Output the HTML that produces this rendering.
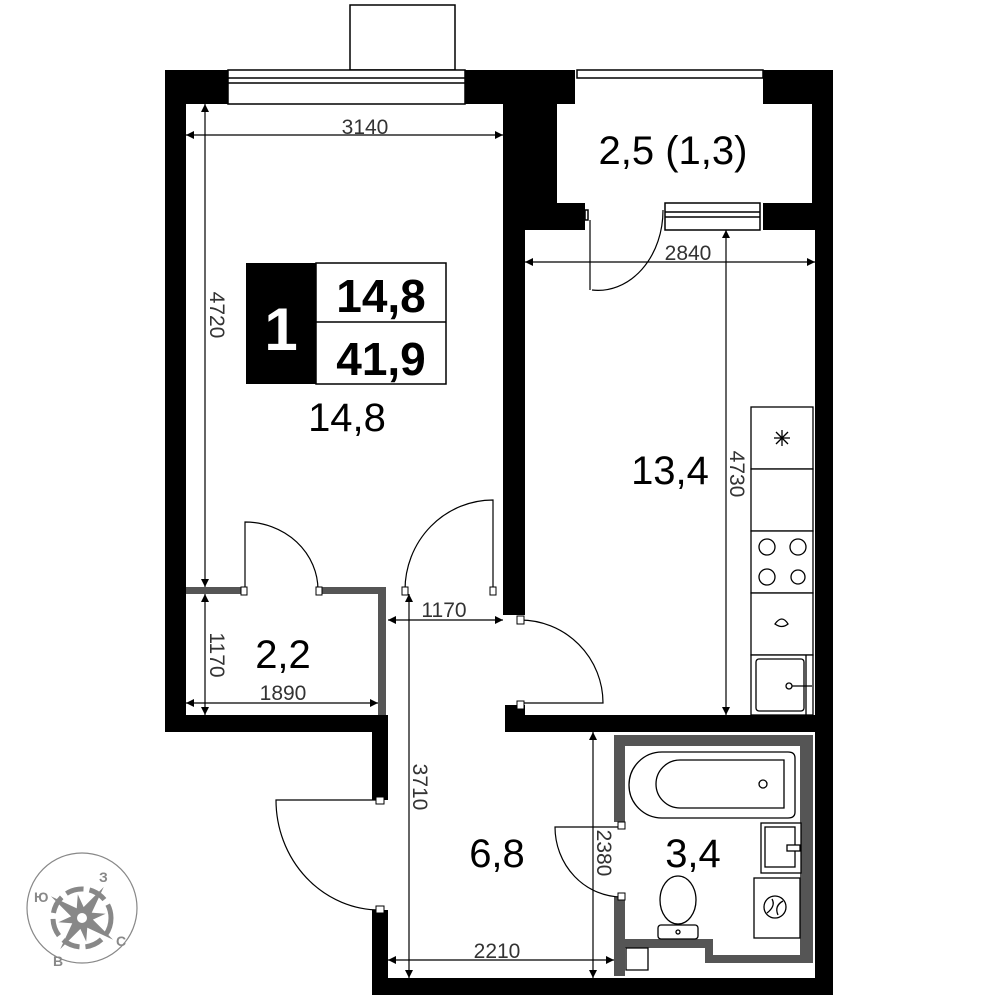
<!DOCTYPE html>
<html><head><meta charset="utf-8"><style>
html,body{margin:0;padding:0;background:#fff}
svg{display:block}
text{font-family:"Liberation Sans","DejaVu Sans",sans-serif}
</style></head><body>
<svg width="1000" height="1000" viewBox="0 0 1000 1000" xmlns="http://www.w3.org/2000/svg">
<defs>
<marker id="a" viewBox="0 0 10 10" refX="10" refY="5" markerWidth="14" markerHeight="8" markerUnits="userSpaceOnUse" orient="auto-start-reverse"><path d="M0,0L10,5L0,10z" fill="#000"/></marker>
</defs>
<g fill="#000">
<rect x="165" y="70" width="21" height="662"/>
<rect x="165" y="70" width="63" height="34"/>
<rect x="465" y="70" width="60" height="34"/>
<rect x="503" y="70" width="22" height="545"/>
<rect x="525" y="70" width="50" height="34"/>
<rect x="525" y="70" width="32" height="160"/>
<rect x="525" y="203" width="60" height="27"/>
<rect x="763" y="70" width="70" height="34"/>
<rect x="812" y="70" width="21" height="160"/>
<rect x="763" y="203" width="70" height="27"/>
<rect x="815" y="230" width="18" height="765"/>
<rect x="505" y="715" width="328" height="17"/>
<rect x="505" y="705" width="20" height="12"/>
<rect x="165" y="715" width="223" height="17"/>
<rect x="372" y="715" width="16" height="85"/>
<rect x="372" y="910" width="16" height="85"/>
<rect x="372" y="978" width="461" height="17"/>
</g>
<g fill="#fff" stroke="#000" stroke-width="1.5">
<rect x="350" y="5" width="105" height="65"/>
<rect x="228" y="70" width="237" height="34"/>
<line x1="228" y1="78" x2="465" y2="78"/><line x1="228" y1="83" x2="465" y2="83"/>
<rect x="577" y="70" width="186" height="8"/>
<rect x="665" y="203" width="95" height="27"/>
<line x1="665" y1="212" x2="760" y2="212"/><line x1="665" y1="217" x2="760" y2="217"/>
<rect x="585" y="210" width="3" height="10"/>
</g>
<g fill="#555">
<rect x="186" y="587" width="192" height="7"/>
<rect x="378" y="587" width="8" height="128"/>
<rect x="614" y="735" width="199" height="11"/>
<rect x="614" y="735" width="11" height="87"/>
<rect x="614" y="897" width="11" height="79"/>
<rect x="800" y="735" width="13" height="228"/>
<rect x="625" y="939" width="88" height="9"/>
<rect x="705" y="939" width="8" height="24"/>
<rect x="705" y="955" width="108" height="8"/>
</g>
<g fill="#fff">
<rect x="245" y="586" width="73" height="9"/>
<rect x="405" y="586" width="88" height="9"/>
</g>
<g fill="none" stroke="#000" stroke-width="1.2">
<path d="M245,590 V522 A73,68 0 0 1 318,590"/>
<path d="M493,590 V500 A88,90 0 0 0 405,590"/>
<path d="M592,290 A65,80 0 0 0 663,210"/>
<line x1="590" y1="220" x2="590" y2="290"/>
<path d="M520,620 A83,83 0 0 1 603,703 H520"/>
<path d="M380,800 H276 A104,110 0 0 0 380,910"/>
<path d="M622,827 H555 A67,70 0 0 0 622,897"/>
</g>
<g fill="#fff" stroke="#000" stroke-width="1">
<rect x="241" y="587" width="6" height="8"/><rect x="316" y="587" width="6" height="8"/>
<rect x="402" y="587" width="6" height="8"/><rect x="490" y="587" width="6" height="8"/>
<rect x="517" y="616" width="7" height="8"/><rect x="517" y="701" width="7" height="8"/>
<rect x="376" y="797" width="8" height="7"/><rect x="376" y="906" width="8" height="7"/>
<rect x="618" y="822" width="7" height="7"/><rect x="618" y="893" width="7" height="7"/>
</g>
<g fill="#fff" stroke="#000" stroke-width="1.3">
<rect x="751" y="407" width="62" height="62"/>
<rect x="751" y="469" width="62" height="62"/>
<rect x="751" y="531" width="62" height="62"/>
<rect x="751" y="593" width="62" height="62"/>
<rect x="751" y="655" width="62" height="60"/>
<rect x="756" y="659" width="48" height="52" rx="3"/>
<line x1="806" y1="655" x2="806" y2="715"/>
<circle cx="767" cy="547" r="8"/><circle cx="798" cy="547" r="8"/>
<circle cx="767" cy="577" r="8"/><circle cx="798" cy="577" r="7"/>
<path d="M775,624 Q782,614 788,624 Q782,629 775,624z"/>
<circle cx="789" cy="686" r="3"/><line x1="792" y1="686" x2="812" y2="686"/>
</g>
<g stroke="#000" stroke-width="1.3">
<line x1="782" y1="430" x2="782" y2="446"/><line x1="774" y1="438" x2="790" y2="438"/>
<line x1="776" y1="432" x2="788" y2="444"/><line x1="788" y1="432" x2="776" y2="444"/>
</g>
<g fill="#fff" stroke="#000" stroke-width="1.3">
<path d="M662,752 H788 Q795,752 795,758 V812 Q795,818 788,818 H662 A33,33 0 0 1 662,752z"/>
<path d="M680,760 H784 V808 H680 A24,24 0 0 1 680,760z"/>
<circle cx="763" cy="784" r="4"/>
<rect x="761" y="823" width="40" height="50"/>
<rect x="765" y="827" width="30" height="40"/>
<rect x="787" y="845" width="13" height="6"/>
<rect x="754" y="878" width="46" height="60"/>
<circle cx="775" cy="907" r="11"/>
<path d="M767,913 Q776,906 772,899 M778,915 Q774,906 783,901"/>
<ellipse cx="678" cy="900" rx="18" ry="24"/>
<rect x="658" y="925" width="40" height="14" rx="3"/>
<circle cx="678" cy="932" r="2"/>
<path d="M626,948 H648 V970 H626z"/>
</g>
<g stroke="#000" stroke-width="1.2" fill="none">
<line x1="186" y1="135" x2="503" y2="135" marker-start="url(#a)" marker-end="url(#a)"/>
<line x1="205" y1="104" x2="205" y2="587" marker-start="url(#a)" marker-end="url(#a)"/>
<line x1="525" y1="262" x2="815" y2="262" marker-start="url(#a)" marker-end="url(#a)"/>
<line x1="726" y1="230" x2="726" y2="715" marker-start="url(#a)" marker-end="url(#a)"/>
<line x1="388" y1="620" x2="503" y2="620" marker-start="url(#a)" marker-end="url(#a)"/>
<line x1="205" y1="594" x2="205" y2="715" marker-start="url(#a)" marker-end="url(#a)"/>
<line x1="186" y1="703" x2="378" y2="703" marker-start="url(#a)" marker-end="url(#a)"/>
<line x1="409" y1="594" x2="409" y2="978" marker-start="url(#a)" marker-end="url(#a)"/>
<line x1="593" y1="732" x2="593" y2="978" marker-start="url(#a)" marker-end="url(#a)"/>
<line x1="388" y1="960" x2="614" y2="960" marker-start="url(#a)" marker-end="url(#a)"/>
</g>
<g fill="#333" font-size="21">
<text x="365" y="134" text-anchor="middle">3140</text>
<text x="688" y="260" text-anchor="middle">2840</text>
<text x="444" y="617" text-anchor="middle">1170</text>
<text x="283" y="700" text-anchor="middle">1890</text>
<text x="497" y="958" text-anchor="middle">2210</text>
<text transform="translate(210,315) rotate(90)" text-anchor="middle">4720</text>
<text transform="translate(730,474) rotate(90)" text-anchor="middle">4730</text>
<text transform="translate(210,655) rotate(90)" text-anchor="middle">1170</text>
<text transform="translate(413,787) rotate(90)" text-anchor="middle">3710</text>
<text transform="translate(597,853) rotate(90)" text-anchor="middle">2380</text>
</g>
<g fill="#000" font-size="40" text-anchor="middle">
<text x="673" y="164">2,5 (1,3)</text>
<text x="347" y="431">14,8</text>
<text x="670" y="484">13,4</text>
<text x="283" y="668">2,2</text>
<text x="497" y="867">6,8</text>
<text x="693" y="867">3,4</text>
</g>
<rect x="246" y="263" width="70" height="121" fill="#000"/>
<rect x="316" y="263" width="130" height="121" fill="#fff" stroke="#000" stroke-width="1.5"/>
<line x1="316" y1="322" x2="446" y2="322" stroke="#000" stroke-width="1.5"/>
<text x="281" y="350" font-size="60" font-weight="bold" fill="#fff" text-anchor="middle">1</text>
<text x="381" y="312" font-size="46" font-weight="bold" text-anchor="middle">14,8</text>
<text x="381" y="375" font-size="46" font-weight="bold" text-anchor="middle">41,9</text>
<g>
<circle cx="82" cy="908" r="55" fill="none" stroke="#888" stroke-width="1.2"/>
<circle cx="82" cy="918" r="29" fill="none" stroke="#888" stroke-width="5" stroke-dasharray="18 6"/>
<polygon fill="#888" points="105.6,913.8 87.7,922 86.2,941.6 78,923.7 58.4,922.2 76.3,914 77.8,894.4 86,912.3"/>
<polygon fill="#888" points="103.8,886.9 89.9,916.6 113.1,939.8 83.4,925.9 60.2,949.1 74.1,919.4 50.9,896.2 80.6,910.1"/>
<circle cx="82" cy="918" r="7" fill="#fff" stroke="#888" stroke-width="4"/>
</g>
<g fill="#888" font-size="14" font-weight="bold">
<text x="34" y="902">Ю</text><text x="99" y="882">З</text>
<text x="116" y="946">С</text><text x="53" y="966">В</text>
</g>
</svg>
</body></html>
